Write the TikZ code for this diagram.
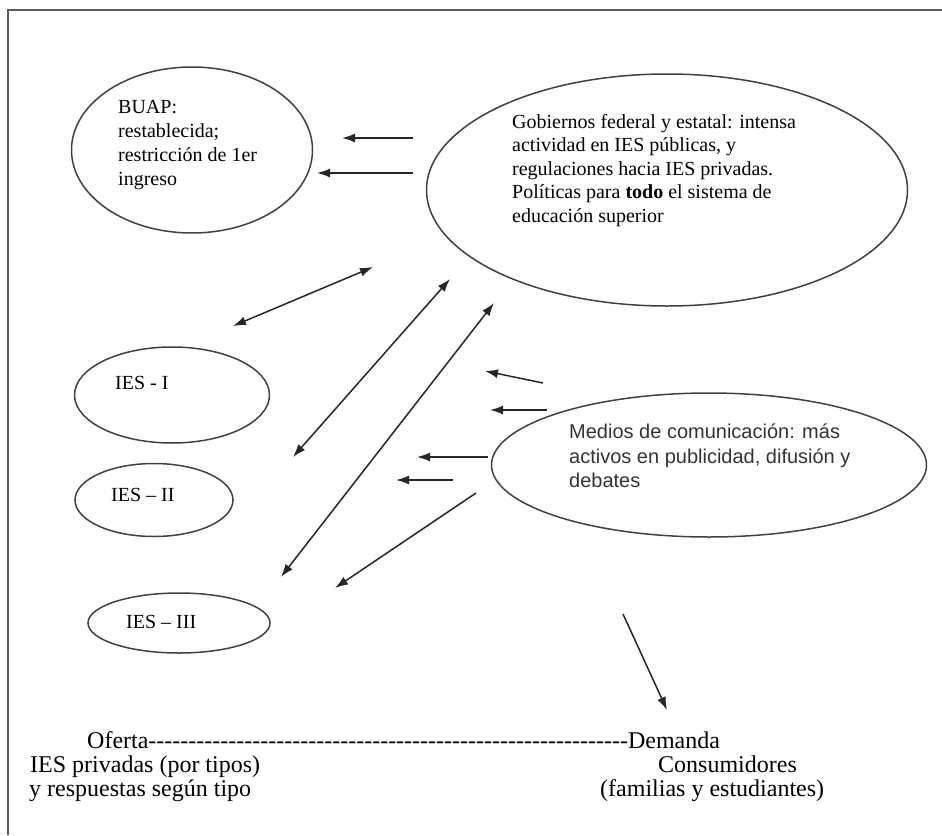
\documentclass[tikz,border=0pt]{standalone}
\usepackage{fontspec}
\setmainfont{Liberation Serif}[Ligatures=TeXOff]
\newfontfamily\arialfont{Liberation Sans}
\usepackage{tikz}
\usetikzlibrary{positioning,arrows.meta,shapes.geometric}

\begin{document}
\begin{tikzpicture}[
x=1pt, y=-1pt,
ovalnode/.style={ellipse, draw=black!75, line width=1.5pt, inner sep=0pt},
txtnode/.style={inner sep=0pt, anchor=north west, align=left, font=\fontsize{20}{23.5}\selectfont},
lowtxt/.style={inner sep=0pt, anchor=base west, font=\fontsize{24}{24}\selectfont},
flecha/.style={->, >={Latex[length=13pt,width=9pt]}, line width=1.5pt, draw=black!85},
doble/.style={<->, >={Latex[length=13pt,width=9pt]}, line width=1.5pt, draw=black!85}
]
    \useasboundingbox (0,0) rectangle (942,835);
    %Frame
    \draw[line width=2pt, black!65] (8,835) -- (8,10) -- (942,10);

    %Nodes
    \node[ovalnode, minimum width=241pt, minimum height=166pt] (buap)   at (192,150) {};
    \node[ovalnode, minimum width=481pt, minimum height=232pt] (gob)    at (667,190) {};
    \node[ovalnode, minimum width=195pt, minimum height=96pt]  (ies1)   at (172,395) {};
    \node[ovalnode, minimum width=158pt, minimum height=73pt]  (ies2)   at (154,500) {};
    \node[ovalnode, minimum width=182pt, minimum height=60pt]  (ies3)   at (179,623) {};
    \node[ovalnode, minimum width=435pt, minimum height=144pt] (medios) at (709,465) {};

    \node[txtnode, font=\fontsize{20}{24}\selectfont] (buaptxt) at (118,100)
        {BUAP:\\restablecida;\\restricción de 1er\\ingreso};
    \node[txtnode] (gobtxt) at (512,114)
        {Gobiernos federal y estatal: intensa\\actividad en IES públicas, y\\regulaciones hacia IES privadas.\\Políticas para \textbf{todo} el sistema de\\educación superior};
    \node[txtnode, font=\arialfont\fontsize{20}{24.5}\selectfont, text=black!80] (mediostxt) at (569,424)
        {Medios de comunicación: más\\activos en publicidad, difusión y\\debates};
    \node[txtnode, anchor=base west] (ies1txt) at (115,389) {IES - I};
    \node[txtnode, anchor=base west] (ies2txt) at (111,501) {IES – II};
    \node[txtnode, anchor=base west] (ies3txt) at (126,628) {IES – III};

    \node[lowtxt] (oferta)   at (87,748)  {Oferta------------------------------------------------------------Demanda};
    \node[lowtxt] (iespriv)  at (30,772)  {IES privadas (por tipos)};
    \node[lowtxt] (resp)     at (29,796)  {y respuestas según tipo};
    \node[lowtxt] (consum)   at (658,772) {Consumidores};
    \node[lowtxt] (familias) at (600,796) {(familias y estudiantes)};

    %Arrow ends
    \coordinate (a1s) at (413,138); \coordinate (a1e) at (342,138);
    \coordinate (a2s) at (413,173); \coordinate (a2e) at (317,173);
    \coordinate (d1s) at (233,326); \coordinate (d1e) at (373,267);
    \coordinate (d2s) at (293,457); \coordinate (d2e) at (450,279);
    \coordinate (d3s) at (281,577); \coordinate (d3e) at (494,303);
    \coordinate (m1s) at (543,383); \coordinate (m1e) at (485,371);
    \coordinate (m2s) at (547,410); \coordinate (m2e) at (490,410);
    \coordinate (m3s) at (488,457); \coordinate (m3e) at (417,457);
    \coordinate (m4s) at (453,480); \coordinate (m4e) at (396,480);
    \coordinate (m5s) at (476,493); \coordinate (m5e) at (335,588);
    \coordinate (dws) at (623,614); \coordinate (dwe) at (667,710);

    %Lines
    \draw[flecha] (a1s) -- (a1e);
    \draw[flecha] (a2s) -- (a2e);
    \draw[doble]  (d1s) -- (d1e);
    \draw[doble]  (d2s) -- (d2e);
    \draw[doble]  (d3s) -- (d3e);
    \draw[flecha] (m1s) -- (m1e);
    \draw[flecha] (m2s) -- (m2e);
    \draw[flecha] (m3s) -- (m3e);
    \draw[flecha] (m4s) -- (m4e);
    \draw[flecha] (m5s) -- (m5e);
    \draw[flecha] (dws) -- (dwe);
\end{tikzpicture}
\end{document}
